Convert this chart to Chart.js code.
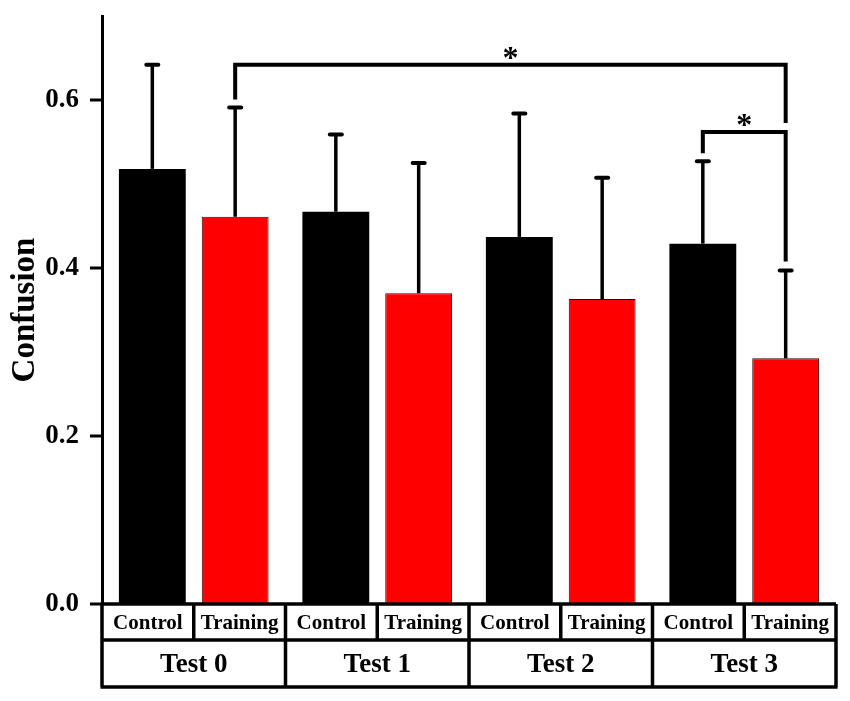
<!DOCTYPE html>
<html>
<head>
<meta charset="utf-8">
<script src="https://cdn.jsdelivr.net/npm/chart.js@4/dist/chart.umd.min.js"></script>
<style>
  html, body { margin: 0; padding: 0; background: #fff; }
  #wrap { width: 850px; height: 701px; }
</style>
</head>
<body>
<div id="wrap"><canvas id="chart"></canvas></div>
<script>
// data
const tests = ["Test 0", "Test 1", "Test 2", "Test 3"];
const groups = ["Control", "Training"];
const controlMean = [0.518, 0.467, 0.437, 0.429];
const controlSd = [0.124, 0.092, 0.147, 0.098];
const trainingMean = [0.461, 0.370, 0.363, 0.2925];
const trainingSd = [0.130, 0.155, 0.1445, 0.1045];
// significance brackets: [dataset, test] to [dataset, test], level
const sigFrom = [[0, 3], [1, 0]];
const sigTo = [[1, 3], [1, 3]];
const sigLevel = [0.562, 0.642];
const sigText = ["*", "*"];

const serif = "'Liberation Serif', 'DejaVu Serif', serif";
const sds = [controlSd, trainingSd];

// error bars (upper only)
const errorBars = {
  id: "errorBars",
  afterDatasetsDraw(chart) {
    const ctx = chart.ctx;
    const y = chart.scales.y;
    ctx.save();
    ctx.strokeStyle = "#000";
    chart.data.datasets.forEach((ds, di) => {
      const meta = chart.getDatasetMeta(di);
      meta.data.forEach((bar, i) => {
        const top = y.getPixelForValue(ds.data[i] + sds[di][i]);
        ctx.lineWidth = 3.5;
        ctx.lineCap = "butt";
        ctx.beginPath();
        ctx.moveTo(bar.x, bar.y);
        ctx.lineTo(bar.x, top);
        ctx.stroke();
        ctx.lineWidth = 4;
        ctx.lineCap = "round";
        ctx.beginPath();
        ctx.moveTo(bar.x - 6, top);
        ctx.lineTo(bar.x + 6, top);
        ctx.stroke();
      });
    });
    ctx.restore();
  }
};

// significance brackets
const brackets = {
  id: "brackets",
  afterDatasetsDraw(chart) {
    const ctx = chart.ctx;
    const y = chart.scales.y;
    // current top of each bar (value), grows as brackets are drawn
    const tops = chart.data.datasets.map((ds, di) => ds.data.map((v, i) => v + sds[di][i]));
    ctx.save();
    ctx.strokeStyle = "#000";
    ctx.fillStyle = "#000";
    ctx.lineWidth = 4;
    ctx.lineCap = "butt";
    ctx.lineJoin = "miter";
    sigLevel.forEach((lvl, k) => {
      const a = sigFrom[k], b = sigTo[k];
      const xa = chart.getDatasetMeta(a[0]).data[a[1]].x;
      const xb = chart.getDatasetMeta(b[0]).data[b[1]].x;
      const yl = y.getPixelForValue(lvl);
      const ya = y.getPixelForValue(tops[a[0]][a[1]]) - 8;
      const yb = y.getPixelForValue(tops[b[0]][b[1]]) - 9;
      ctx.beginPath();
      ctx.moveTo(xa, ya);
      ctx.lineTo(xa, yl);
      ctx.lineTo(xb, yl);
      ctx.lineTo(xb, yb);
      ctx.stroke();
      tops[a[0]][a[1]] = lvl;
      tops[b[0]][b[1]] = lvl;
      ctx.font = "bold 32px " + serif;
      ctx.textAlign = "center";
      ctx.textBaseline = "alphabetic";
      ctx.fillText(sigText[k], (xa + xb) / 2, yl + 3);
    });
    ctx.restore();
  }
};

// y ticks (major / minor) and two-row category table under the axis
const axisTable = {
  id: "axisTable",
  afterDraw(chart) {
    const ctx = chart.ctx;
    const x = chart.scales.x;
    const y = chart.scales.y;
    const left = x.left, right = x.right;
    const y0 = y.bottom, y1 = y0 + 36, y2 = y0 + 83;
    ctx.save();
    ctx.strokeStyle = "#000";
    ctx.lineWidth = 3;
    // y ticks
    y.ticks.forEach(t => {
      const py = y.getPixelForValue(t.value);
      const major = Math.round(t.value * 10) % 2 === 0;
      ctx.beginPath();
      ctx.moveTo(left - (major ? 12 : 7), py);
      ctx.lineTo(left, py);
      ctx.stroke();
    });
    // table lines
    ctx.lineWidth = 3.5;
    ctx.beginPath();
    ctx.moveTo(left - 1.5, y0);
    ctx.lineTo(right, y0);
    ctx.moveTo(left, y1);
    ctx.lineTo(right, y1);
    ctx.moveTo(left - 1.5, y2);
    ctx.lineTo(right + 1.5, y2);
    ctx.moveTo(left, y0);
    ctx.lineTo(left, y2);
    ctx.moveTo(right, y0);
    ctx.lineTo(right, y2);
    const w = (right - left) / tests.length;
    tests.forEach((t, i) => {
      const gx = left + i * w;
      if (i > 0) {
        ctx.moveTo(gx, y0);
        ctx.lineTo(gx, y2);
      }
      ctx.moveTo(gx + w / 2, y0);
      ctx.lineTo(gx + w / 2, y1);
    });
    ctx.stroke();
    // texts
    ctx.fillStyle = "#000";
    ctx.textAlign = "center";
    ctx.textBaseline = "middle";
    tests.forEach((t, i) => {
      const gx = left + i * w;
      ctx.font = "bold 21px " + serif;
      groups.forEach((g, j) => {
        ctx.fillText(g, gx + w / 4 + j * w / 2, (y0 + y1) / 2 + 2);
      });
      ctx.font = "bold 27px " + serif;
      ctx.fillText(t, gx + w / 2, (y1 + y2) / 2 + 2);
    });
    ctx.restore();
  }
};

new Chart(document.getElementById("chart"), {
  type: "bar",
  data: {
    labels: tests,
    datasets: [
      {
        label: groups[0],
        data: controlMean,
        backgroundColor: "#000000",
        borderColor: "#000000",
        borderWidth: 0,
        categoryPercentage: 0.903,
        barPercentage: 0.807
      },
      {
        label: groups[1],
        data: trainingMean,
        backgroundColor: "#ff0000",
        borderColor: "#3a0000",
        borderWidth: 1,
        categoryPercentage: 0.903,
        barPercentage: 0.807
      }
    ]
  },
  options: {
    responsive: true,
    maintainAspectRatio: false,
    animation: false,
    devicePixelRatio: 1,
    layout: { padding: { left: 0, right: 14, top: 16, bottom: 0 } },
    plugins: {
      legend: { display: false },
      tooltip: { enabled: false }
    },
    scales: {
      x: {
        grid: { display: false },
        border: { display: false },
        ticks: { display: false },
        afterFit(scale) { scale.height = 97; }
      },
      y: {
        min: 0,
        max: 0.7,
        grid: { display: false },
        border: { display: true, color: "#000", width: 3 },
        ticks: {
          stepSize: 0.1,
          padding: 15,
          color: "#000",
          font: { family: serif, size: 27, weight: "bold" },
          callback: v => (Math.round(v * 10) % 2 === 0 ? v.toFixed(1) : null)
        },
        title: {
          display: true,
          text: "Confusion",
          color: "#000",
          font: { family: serif, size: 33, weight: "bold" },
          padding: { top: 6, bottom: 0 }
        },
        afterFit(scale) {
          scale.width = 102;
          scale.paddingTop = 0;
          scale.paddingBottom = 0;
        }
      }
    }
  },
  plugins: [errorBars, brackets, axisTable]
});
</script>
</body>
</html>
